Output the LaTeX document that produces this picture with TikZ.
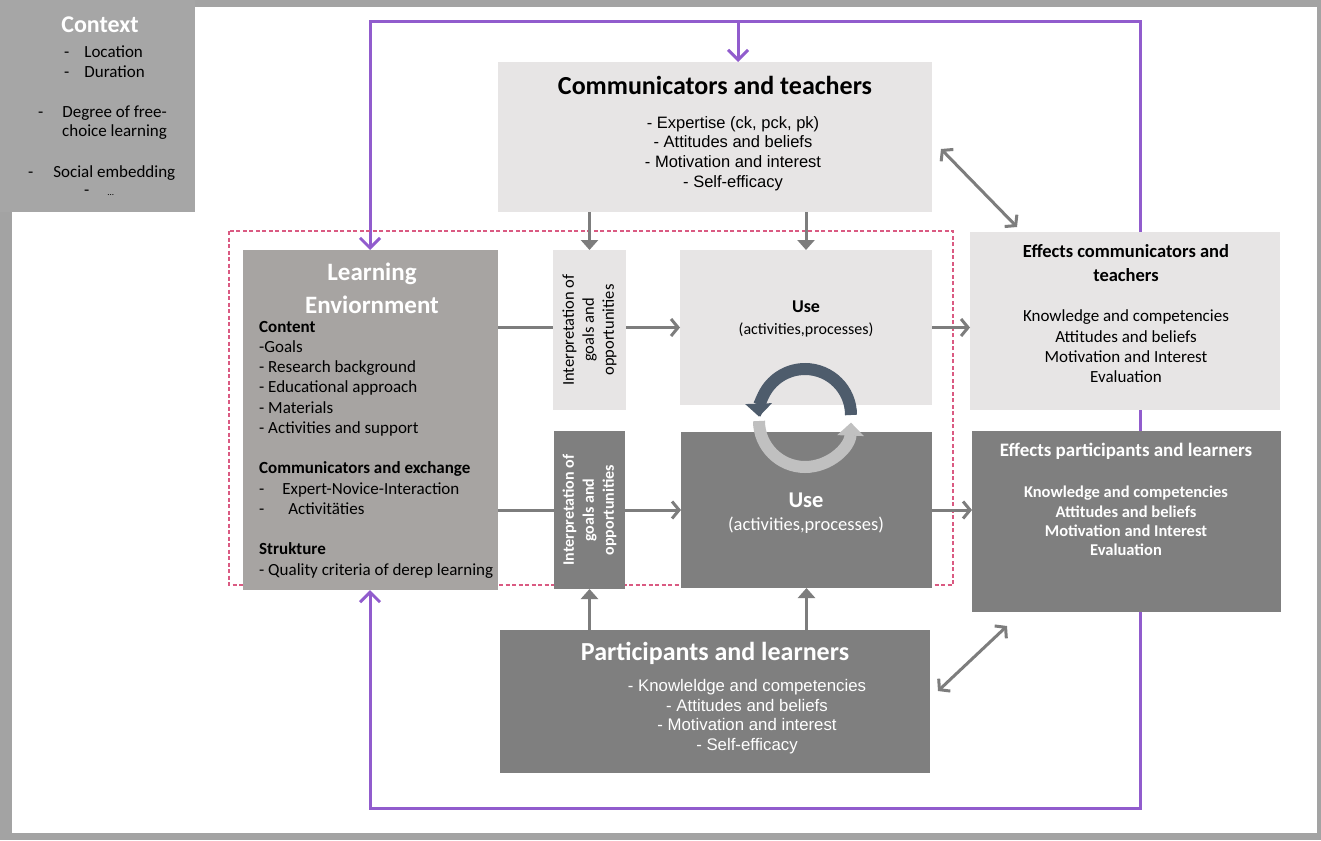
\documentclass[tikz,border=0pt]{standalone}
\usepackage{fontspec}
\setmainfont{Carlito}
\newfontfamily\arialfont{Liberation Sans}
\usepackage{tikz}
\usetikzlibrary{arrows.meta, positioning, backgrounds}
\definecolor{framegray}{RGB}{163,163,163}
\definecolor{ctxgray}{RGB}{166,166,166}
\definecolor{lightbox}{RGB}{231,229,229}
\definecolor{darkbox}{RGB}{127,127,127}
\definecolor{envgray}{RGB}{167,164,162}
\definecolor{loopviolet}{RGB}{145,92,205}
\definecolor{dashpink}{RGB}{218,90,130}
\definecolor{cycdark}{RGB}{78,92,108}
\definecolor{cyclight}{RGB}{192,192,192}
\definecolor{flowgray}{RGB}{125,125,125}

\newcommand{\setfs}[2]{\fontsize{#1}{#2}\selectfont}

\begin{document}
\begin{tikzpicture}[x=1pt, y=-1pt,
    box/.style={anchor=north west, inner sep=0pt, outer sep=0pt},
    txt/.style={inner sep=0pt, align=center},
    flow/.style={draw=flowgray, line width=3pt},
    flowhead/.style={flow, -{Straight Barb[length=7pt, width=17pt]}},
    flowdown/.style={flow, -{Triangle[length=10pt, width=17pt]}},
    twoway/.style={flow, {Straight Barb[length=7pt, width=17pt]}-{Straight Barb[length=7pt, width=17pt]}},
    loopline/.style={draw=loopviolet, line width=3pt},
    looptip/.style={loopline, -{Straight Barb[length=10pt, width=20pt]}},
  ]
  \useasboundingbox (0,0) rectangle (1321,840);

  % boxes
  \node[box, fill=ctxgray, minimum width=195pt, minimum height=212pt] (ctx) at (0,0) {};
  \draw[dashpink, line width=1.3pt, dash pattern=on 4pt off 2.5pt] (229,231) rectangle (953,585);
  \node[box, fill=lightbox, minimum width=434pt, minimum height=150pt] (comm) at (498,62) {};
  \node[box, fill=envgray, minimum width=255pt, minimum height=340pt] (le) at (243,250) {};
  \node[box, fill=lightbox, minimum width=73pt, minimum height=160pt] (interpA) at (553,250) {};
  \node[box, fill=darkbox, minimum width=71pt, minimum height=158pt] (interpB) at (554,431) {};
  \node[box, fill=lightbox, minimum width=252pt, minimum height=155pt] (useA) at (680,250) {};
  \node[box, fill=darkbox, minimum width=251pt, minimum height=156pt] (useB) at (681,432) {};
  \node[box, fill=lightbox, minimum width=310pt, minimum height=178pt] (effA) at (970,232) {};
  \node[box, fill=darkbox, minimum width=309pt, minimum height=181pt] (effB) at (972,431) {};
  \node[box, fill=darkbox, minimum width=430pt, minimum height=143pt] (part) at (500,630) {};

  % context
  \node[txt, text=white, font=\bfseries\setfs{24}{28}] (ctxtitle) at (100,25) {Context};
  \begin{scope}[every node/.style={inner sep=0pt, anchor=west, font=\setfs{17}{20}}]
    \node (ctxloc) at (64,52) {-\hspace{15pt}Location};
    \node (ctxdur) at (64,72) {-\hspace{15pt}Duration};
    \node (ctxfree) at (38,113) {-\hspace{19pt}Degree of free-};
    \node (ctxfree2) at (62,132) {choice learning};
    \node (ctxsoc) at (28,173) {-\hspace{20pt}Social embedding};
    \node (ctxdots) at (84,193) {-\hspace{18pt}\setfs{9}{10}...};
  \end{scope}

  % communicators and teachers
  \node[txt, font=\bfseries\setfs{26}{30}] (commtitle) at (715,85) {Communicators and teachers};
  \node[txt, font=\arialfont\setfs{16.5}{19.7}] (commlist) at (733,153.5)
    {- Expertise (ck, pck, pk)\\- Attitudes and beliefs\\- Motivation and interest\\- Self-efficacy};

  % learning environment
  \node[txt, text=white, font=\bfseries\setfs{25}{33}] (letitle) at (372,288.5) {Learning\\Enviornment};
  \node[txt, align=left, anchor=west, font=\setfs{17}{20.25}] (lelist) at (259,449.5)
    {\textbf{Content}\\-Goals\\- Research background\\- Educational approach\\- Materials\\- Activities and support\\[20.25pt]
     \textbf{Communicators and exchange}\\-\hspace{18pt}Expert-Novice-Interaction\\-\hspace{24pt}Activitäties\\[20.25pt]
     \textbf{Strukture}\\- Quality criteria of derep learning};

  % interpretation
  \node[txt, rotate=90, font=\setfs{16.5}{20}] (interpAtxt) at (interpA) {Interpretation of\\goals and\\opportunities};
  \node[txt, rotate=90, text=white, font=\bfseries\setfs{16}{20}] (interpBtxt) at (interpB) {Interpretation of\\goals and\\opportunities};

  % use
  \node[txt, font=\bfseries\setfs{18}{22}] (useAtitle) at (806,307) {Use};
  \node[txt, font=\setfs{16}{20}] (useAtxt) at (806,330) {(activities,processes)};
  \node[txt, text=white, font=\bfseries\setfs{22.5}{26}] (useBtitle) at (806,500) {Use};
  \node[txt, text=white, font=\setfs{18.5}{22}] (useBtxt) at (806,525) {(activities,processes)};

  % effects
  \node[txt, font=\bfseries\setfs{18.5}{24}] (effAtitle) at (1126,263) {Effects communicators and\\teachers};
  \node[txt, font=\setfs{17}{20.3}] (effAlist) at (1126,346.5)
    {Knowledge and competencies\\Attitudes and beliefs\\Motivation and Interest\\Evaluation};
  \node[txt, text=white, font=\bfseries\setfs{19}{24}] (effBtitle) at (1126,451) {Effects participants and learners};
  \node[txt, text=white, font=\bfseries\setfs{16.5}{19.3}] (effBlist) at (1126,521)
    {Knowledge and competencies\\Attitudes and beliefs\\Motivation and Interest\\Evaluation};

  % participants and learners
  \node[txt, text=white, font=\bfseries\setfs{26}{30}] (parttitle) at (715,653) {Participants and learners};
  \node[txt, text=white, font=\arialfont\setfs{16.8}{19.7}] (partlist) at (747,716.5)
    {- Knowleldge and competencies\\- Attitudes and beliefs\\- Motivation and interest\\- Self-efficacy};

  % frame and feedback loop behind everything
  \begin{scope}[on background layer]
    \fill[framegray] (0,0) rectangle (1321,840);
    \fill[white] (12,7) rectangle (1317,833);
    \coordinate (loopTL) at (370,22);
    \coordinate (loopTR) at (1140,22);
    \coordinate (loopBR) at (1140,808);
    \coordinate (loopBL) at (370,808);
    \draw[loopline, {Straight Barb[length=10pt, width=20pt]}-{Straight Barb[length=10pt, width=20pt]}]
      (loopTL |- le.north) -- (loopTL) -- (loopTR) -- (loopBR) -- (loopBL) -- (loopBL |- le.south);
  \end{scope}
  \coordinate (loopT) at (738,22);
  \draw[looptip] (loopT) -- (loopT |- comm.north);

  % flows
  \draw[flowdown] (comm.south -| interpA) -- (interpA.north);
  \draw[flowdown] (comm.south -| useA) -- (useA.north);
  \draw[flowdown] (part.north -| interpB) -- (interpB.south);
  \draw[flowdown] (part.north -| useB) -- (useB.south);
  \draw[flow] (le.east |- useA) -- (interpA.west |- useA);
  \draw[flowhead] (interpA.east |- useA) -- (useA.west);
  \draw[flow] (le.east |- useB) -- (interpB.west |- useB);
  \draw[flowhead] (interpB.east |- useB) -- (useB.west);
  \draw[flowhead] (useA.east) -- (effA.west |- useA);
  \draw[flowhead] (useB.east) -- (effB.west |- useB);

  \coordinate (commlink) at (941,149);
  \coordinate (effAlink) at (1017,227);
  \coordinate (effBlink) at (1007,626);
  \coordinate (partlink) at (938,691);
  \draw[twoway] (commlink) -- (effAlink);
  \draw[twoway] (effBlink) -- (partlink);

  % cycle between the two uses
  \draw[cycdark, line width=12pt, -{Triangle[length=13pt, width=26pt]}]
    (851,415) arc[start angle=0, end angle=182, radius=46pt];
  \draw[cyclight, line width=12pt, -{Triangle[length=13pt, width=26pt]}]
    (759,421) arc[start angle=180, end angle=358, radius=46pt];
\end{tikzpicture}
\end{document}
